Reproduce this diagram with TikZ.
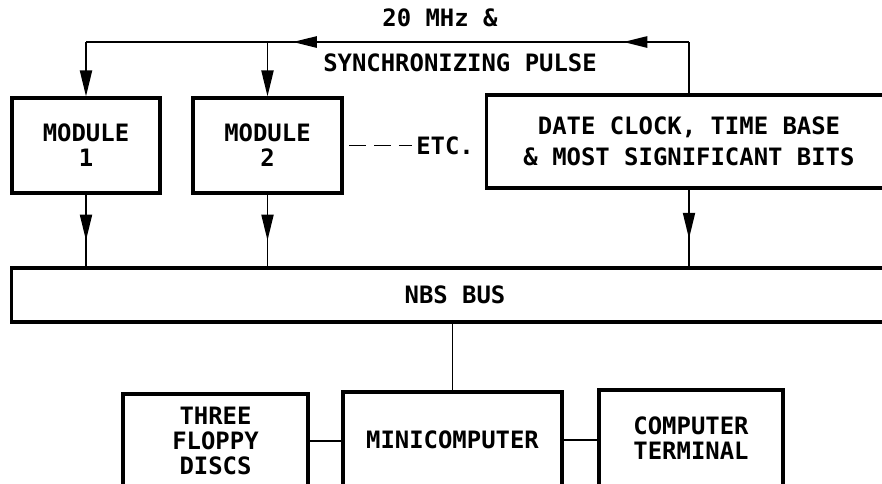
\documentclass[tikz,border=0pt]{standalone}
\usepackage{fontspec}
\setmonofont{DejaVu Sans Mono}
\usetikzlibrary{arrows.meta,decorations.markings}
\tikzset{
  blk/.style={draw,line width=2.2pt,align=center,inner sep=0pt},
  lbl/.style={align=center,inner sep=0pt},
  wire/.style={line width=1.4pt},
  flow/.style={wire,-{Triangle[length=6.5mm,width=3mm]}},
  midflow/.style={wire,postaction={decorate},
    decoration={markings,mark=at position #1 with {\arrow{Triangle[length=6.5mm,width=3mm]}}}},
  syncflow/.style={wire,postaction={decorate},
    decoration={markings,
      mark=at position 0.109 with {\arrow{Triangle[length=6mm,width=2.8mm]}},
      mark=at position 0.657 with {\arrow{Triangle[length=6mm,width=2.8mm]}}}}
}
\begin{document}
\begin{tikzpicture}[x=0.025cm,y=-0.025cm,font=\ttfamily\bfseries\fontsize{17}{17.8}\selectfont]
\useasboundingbox (0,0) rectangle (882,483);
\clip (0,0) rectangle (882,483);
\node[blk,minimum width=3.7cm,minimum height=2.375cm] (mod1) at (86,145.5) {MODULE\\1};
\node[blk,minimum width=3.725cm,minimum height=2.375cm] (mod2) at (267.5,145.5) {MODULE\\2};
\node[blk,minimum width=10.1cm,minimum height=2.325cm] (clk) at (689,141.5) {DATE CLOCK, TIME BASE\\[4pt]\& MOST SIGNIFICANT BITS};
\node[blk,minimum width=22.15cm,minimum height=1.35cm] (bus) at (455,295) {NBS BUS};
\node[blk,minimum width=4.625cm,minimum height=2.35cm] (disc) at (215.5,441) {THREE\\FLOPPY\\DISCS};
\node[blk,minimum width=5.475cm,minimum height=2.4cm] (mini) at (452.5,440) {MINICOMPUTER};
\node[blk,minimum width=4.6cm,minimum height=2.4cm] (term) at (691,438) {COMPUTER\\TERMINAL};
\node[lbl] (freq) at (440,18) {20 MHz \&};
\node[lbl] (sync) at (460,63) {SYNCHRONIZING PULSE};
\node[lbl,anchor=west] (etc) at (416,145.5) {ETC.};
\coordinate (clkup) at (689,42);
\coordinate (tap1) at (86,42);
\coordinate (tap2) at (267.5,42);
\draw[wire] (clk.north) -- (clkup);
\draw[syncflow] (clkup) -- (tap1);
\draw[flow] (tap1) -- (mod1.north);
\draw[flow] (tap2) -- (mod2.north);
\draw[midflow=0.64] (mod1.south) -- (mod1.south |- bus.north);
\draw[midflow=0.64] (mod2.south) -- (mod2.south |- bus.north);
\draw[midflow=0.64] (clk.south) -- (clk.south |- bus.north);
\draw[wire,dash pattern=on 12pt off 5.7pt,shorten <=4pt,shorten >=3pt] (mod2.east) -- (etc.west);
\draw[wire] (mini.north |- bus.south) -- (mini.north);
\draw[wire] (disc.east) -- (disc.east -| mini.west);
\draw[wire] (mini.east) -- (mini.east -| term.west);
\end{tikzpicture}
\end{document}
